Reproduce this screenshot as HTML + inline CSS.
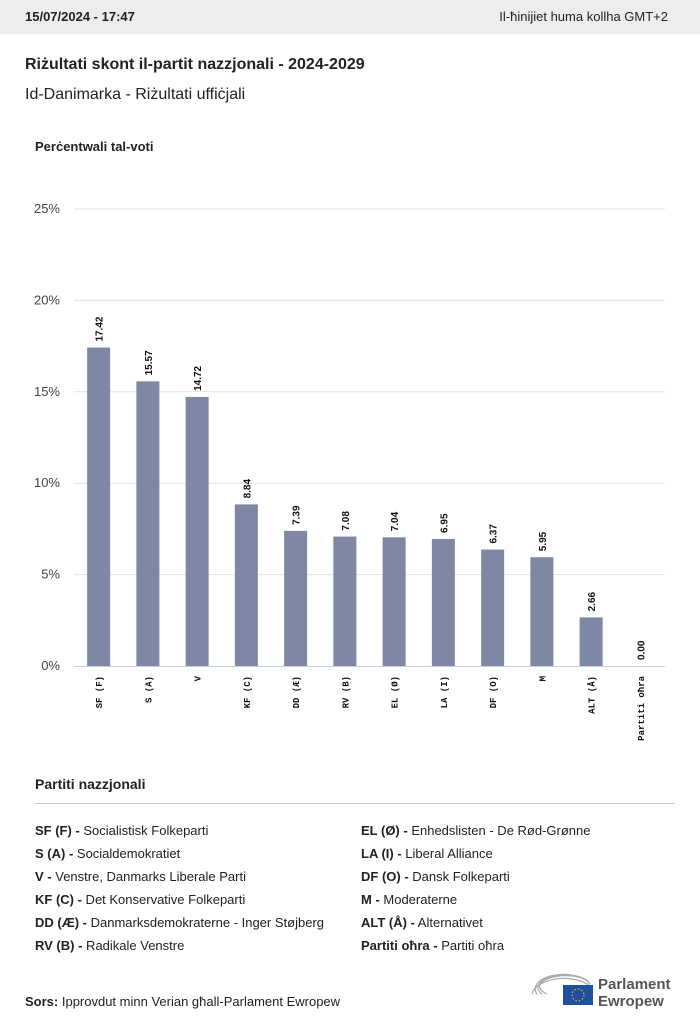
<!DOCTYPE html>
<html><head><meta charset="utf-8">
<style>
body{margin:0;width:700px;height:1028px;background:#fff;font-family:"Liberation Sans",sans-serif;color:#222;position:relative;overflow:hidden}
.hdr{position:absolute;left:0;top:0;width:700px;height:34px;background:#ededed;font-size:13px}
.abs{position:absolute;white-space:nowrap}
.leg{font-size:13px;line-height:23px}
.leg b{font-weight:bold}
</style></head><body>
<div class="hdr">
<div class="abs" style="left:25px;top:9px;font-weight:bold">15/07/2024 - 17:47</div>
<div class="abs" style="right:32px;top:9px">Il-ħinijiet huma kollha GMT+2</div>
</div>
<div class="abs" style="left:25px;top:56px;font-size:16px;font-weight:bold">Riżultati skont il-partit nazzjonali - 2024-2029</div>
<div class="abs" style="left:25px;top:86px;font-size:16px">Id-Danimarka - Riżultati uffiċjali</div>
<div class="abs" style="left:35px;top:139px;font-size:13px;font-weight:bold">Perċentwali tal-voti</div>
<svg class="abs" style="left:0;top:0" width="700" height="780" id="chart"></svg>
<div class="abs" style="left:35px;top:776px;font-size:14px;font-weight:bold">Partiti nazzjonali</div>
<div class="abs" style="left:35px;top:803px;width:640px;height:1px;background:#ccc"></div>
<div class="abs leg" style="left:35px;top:819px">
<div><b>SF (F) -</b> Socialistisk Folkeparti</div>
<div><b>S (A) -</b> Socialdemokratiet</div>
<div><b>V -</b> Venstre, Danmarks Liberale Parti</div>
<div><b>KF (C) -</b> Det Konservative Folkeparti</div>
<div><b>DD (Æ) -</b> Danmarksdemokraterne - Inger Støjberg</div>
<div><b>RV (B) -</b> Radikale Venstre</div>
</div>
<div class="abs leg" style="left:361px;top:819px">
<div><b>EL (Ø) -</b> Enhedslisten - De Rød-Grønne</div>
<div><b>LA (I) -</b> Liberal Alliance</div>
<div><b>DF (O) -</b> Dansk Folkeparti</div>
<div><b>M -</b> Moderaterne</div>
<div><b>ALT (Å) -</b> Alternativet</div>
<div><b>Partiti oħra -</b> Partiti oħra</div>
</div>
<div class="abs" style="left:25px;top:994px;font-size:13px"><b>Sors:</b> Ipprovdut minn Verian għall-Parlament Ewropew</div>
<div class="abs" style="left:530px;top:970px;width:150px;height:40px">
<svg width="150" height="40">
<g fill="none" stroke="#aaa" stroke-width="1.2">
<path d="M2 24 A32 18 0 0 1 62 18"/><path d="M7 24 A27 14 0 0 1 60 14"/><path d="M12 24 A22 10 0 0 1 58 11"/><path d="M17 24 A17 7 0 0 1 55 9"/>
</g>
<rect x="33" y="15" width="30" height="20" fill="#1e4fa1"/>
<circle cx="48" cy="25" r="6" fill="none" stroke="#fc0" stroke-dasharray="1.5 2"/>
<text x="68" y="19" font-size="15" font-weight="bold" fill="#555" font-family="Liberation Sans">Parlament</text>
<text x="68" y="36" font-size="15" font-weight="bold" fill="#555" font-family="Liberation Sans">Ewropew</text>
</svg></div>
<script>
const categories=["SF (F)","S (A)","V","KF (C)","DD (Æ)","RV (B)","EL (Ø)","LA (I)","DF (O)","M","ALT (Å)","Partiti oħra"];
const values=[17.42,15.57,14.72,8.84,7.39,7.08,7.04,6.95,6.37,5.95,2.66,0.00];
const valueLabels=["17.42","15.57","14.72","8.84","7.39","7.08","7.04","6.95","6.37","5.95","2.66","0.00"];
const ticks=[0,5,10,15,20,25];
const tickLabels=["0%","5%","10%","15%","20%","25%"];
const NS="http://www.w3.org/2000/svg";
const svg=document.getElementById('chart');
const x0=74,x1=665,y0=666,y25=209;
const y=v=>y0-(v/25)*(y0-y25);
const slot=(x1-x0)/categories.length;
const xc=i=>x0+slot*(i+0.5);
function mk(t,a){const e=document.createElementNS(NS,t);for(const k in a)e.setAttribute(k,a[k]);svg.appendChild(e);return e;}
ticks.forEach((t,i)=>{
 if(t>0){const g=mk('line',{x1:x0,x2:x1,y1:y(t),y2:y(t),stroke:'#e3e3e3'});
 
 }
 const tl=mk('text',{x:60,y:y(t)+4,'text-anchor':'end','font-size':13,fill:'#444','font-family':'Liberation Sans'});
 tl.textContent=tickLabels[i];
 
 
});
const ax=mk('line',{x1:x0,x2:x1,y1:y0+0.5,y2:y0+0.5,stroke:'#c5d2e6'});


values.forEach((v,i)=>{
 const cx=xc(i);
 const b=mk('rect',{x:cx-11.5,y:y(v),width:23,height:y0-y(v),fill:'#7e88a5'});
 
 
 const vl=mk('text',{x:0,y:0,transform:`translate(${cx+4},${y(v)-6}) rotate(-90)`,'font-size':10,'font-weight':'bold',fill:'#111','font-family':'Liberation Sans'});
 vl.textContent=valueLabels[i];
 
 
 const cl=mk('text',{x:0,y:0,transform:`translate(${cx+3.5},${y0+10}) rotate(-90)`,'text-anchor':'end','font-size':9,'font-weight':'bold',fill:'#111','font-family':'Liberation Mono'});
 cl.textContent=categories[i];
 
 
});
</script>
</body></html>
